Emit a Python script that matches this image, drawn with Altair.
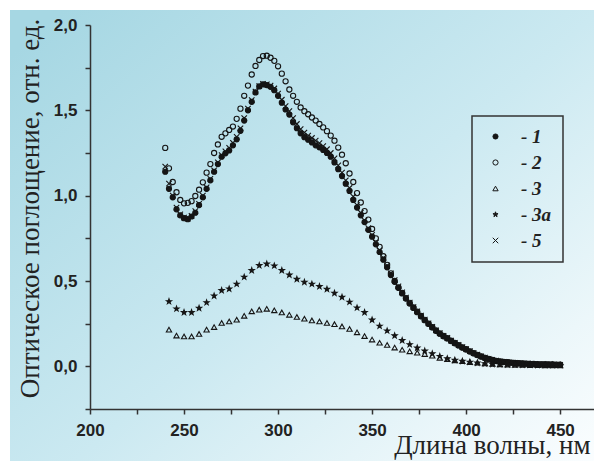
import altair as alt
import pandas as pd

# wavelength grids (nm)
wl_main = list(range(240, 452, 2))
wl_sparse = list(range(242, 452, 4))

# series 1 (filled circles)
c1 = [1.14, 1.04, 0.99, 0.92, 0.885, 0.868, 0.862, 0.878, 0.90, 0.945,
      0.99, 1.04, 1.09, 1.14, 1.185, 1.228, 1.248, 1.265, 1.295, 1.33,
      1.38, 1.44, 1.50, 1.55, 1.605, 1.64, 1.652, 1.648, 1.638, 1.618,
      1.585, 1.545, 1.505, 1.475, 1.43, 1.395, 1.365, 1.343, 1.328, 1.312,
      1.295, 1.283, 1.268, 1.25, 1.228, 1.195, 1.155, 1.115, 1.07, 1.028,
      0.975, 0.93, 0.885, 0.845, 0.80, 0.76, 0.715, 0.67, 0.625, 0.58,
      0.535, 0.495, 0.46, 0.427, 0.397, 0.368, 0.342, 0.317, 0.293, 0.27,
      0.249, 0.228, 0.208, 0.191, 0.176, 0.163, 0.148, 0.135, 0.122, 0.11,
      0.099, 0.087, 0.076, 0.066, 0.057, 0.049, 0.042, 0.036, 0.031, 0.028,
      0.025, 0.023, 0.021, 0.019, 0.017, 0.016, 0.015, 0.014, 0.013, 0.012,
      0.011, 0.011, 0.01, 0.01, 0.009, 0.009]

# series 2 (open circles)
c2 = [1.28, 1.16, 1.08, 1.02, 0.975, 0.955, 0.958, 0.968, 0.998, 1.035,
      1.078, 1.135, 1.185, 1.25, 1.30, 1.345, 1.365, 1.385, 1.405, 1.45,
      1.51, 1.585, 1.645, 1.71, 1.76, 1.795, 1.818, 1.82, 1.808, 1.79,
      1.758, 1.715, 1.67, 1.622, 1.585, 1.55, 1.517, 1.495, 1.477, 1.458,
      1.44, 1.42, 1.40, 1.378, 1.352, 1.322, 1.282, 1.24, 1.19, 1.13,
      1.08, 1.015, 0.96, 0.91, 0.86, 0.805, 0.75, 0.70, 0.645, 0.595,
      0.545, 0.50, 0.462, 0.43, 0.40, 0.372, 0.345, 0.32, 0.295, 0.272,
      0.25, 0.23, 0.21, 0.193, 0.178, 0.165, 0.15, 0.137, 0.124, 0.111,
      0.10, 0.088, 0.077, 0.067, 0.058, 0.05, 0.043, 0.037, 0.032, 0.029,
      0.026, 0.024, 0.022, 0.02, 0.018, 0.017, 0.016, 0.015, 0.014, 0.013,
      0.012, 0.012, 0.011, 0.011, 0.01, 0.01]

# series 5 (crosses)
c5 = [1.17, 1.07, 1.0, 0.93, 0.89, 0.872, 0.866, 0.882, 0.91, 0.952,
      1.0, 1.048, 1.098, 1.148, 1.195, 1.238, 1.26, 1.28, 1.31, 1.345,
      1.395, 1.455, 1.51, 1.56, 1.61, 1.642, 1.655, 1.652, 1.645, 1.628,
      1.598, 1.562, 1.525, 1.495, 1.455, 1.42, 1.39, 1.37, 1.352, 1.338,
      1.322, 1.308, 1.29, 1.272, 1.25, 1.218, 1.178, 1.135, 1.09, 1.045,
      0.995, 0.945, 0.9, 0.855, 0.81, 0.77, 0.725, 0.68, 0.635, 0.59,
      0.545, 0.505, 0.468, 0.434, 0.403, 0.374, 0.347, 0.322, 0.297, 0.274,
      0.252, 0.231, 0.211, 0.194, 0.179, 0.166, 0.151, 0.138, 0.125, 0.113,
      0.101, 0.089, 0.078, 0.068, 0.059, 0.051, 0.044, 0.038, 0.033, 0.029,
      0.026, 0.024, 0.022, 0.02, 0.018, 0.017, 0.016, 0.014, 0.013, 0.012,
      0.012, 0.011, 0.011, 0.01, 0.01, 0.009]

# series 3 (triangles)
c3 = [0.215, 0.18, 0.175, 0.175, 0.19, 0.215, 0.23, 0.254, 0.263, 0.273,
      0.296, 0.322, 0.332, 0.337, 0.328, 0.316, 0.302, 0.289, 0.279, 0.269,
      0.263, 0.254, 0.247, 0.234, 0.219, 0.199, 0.177, 0.157, 0.138, 0.125,
      0.11, 0.097, 0.088, 0.08, 0.072, 0.062, 0.05, 0.042, 0.035, 0.03,
      0.025, 0.021, 0.017, 0.014, 0.012, 0.01, 0.009, 0.008, 0.007, 0.007,
      0.006, 0.006, 0.006]

# series 3a (stars)
c3a = [0.38, 0.337, 0.316, 0.316, 0.341, 0.374, 0.413, 0.445, 0.454, 0.482,
       0.523, 0.562, 0.591, 0.60, 0.589, 0.562, 0.536, 0.511, 0.493, 0.482,
       0.468, 0.452, 0.429, 0.405, 0.377, 0.343, 0.316, 0.272, 0.236, 0.208,
       0.18, 0.152, 0.128, 0.108, 0.09, 0.074, 0.059, 0.045, 0.036, 0.03,
       0.025, 0.02, 0.016, 0.013, 0.011, 0.01, 0.009, 0.008, 0.008, 0.007,
       0.007, 0.007, 0.006]

series_names = ["1", "2", "3", "3a", "5"]
x_ticks = [200, 225, 250, 275, 300, 325, 350, 375, 400, 425, 450]
y_ticks = [-0.25, 0.0, 0.25, 0.5, 0.75, 1.0, 1.25, 1.5, 1.75, 2.0]

rows = []
for name, wl, vals in [("1", wl_main, c1), ("2", wl_main, c2), ("3", wl_sparse, c3),
                       ("3a", wl_sparse, c3a), ("5", wl_main, c5)]:
    for w, v in zip(wl, vals):
        rows.append({"wl": w, "val": v, "series": name})
df = pd.DataFrame(rows)

STAR = ("M0,-1L0.235,-0.324L0.951,-0.309L0.38,0.124L0.588,0.809L0,0.4"
        "L-0.588,0.809L-0.38,0.124L-0.951,-0.309L-0.235,-0.324Z")
CROSS = "M-1,-1L1,1M-1,1L1,-1"

W, H = 504, 384
INK = "#151515"

bg = alt.Chart(alt.Data(values=[{"a": 1}])).mark_rect(
    fill=alt.LinearGradient(
        gradient="linear", x1=0, y1=0.1, x2=1, y2=1,
        stops=[alt.GradientStop(offset=0, color="#a6d7e3"),
               alt.GradientStop(offset=0.5, color="#cbe9f1"),
               alt.GradientStop(offset=0.82, color="#ecf7fa"),
               alt.GradientStop(offset=1, color="#fcfeff")]),
    strokeWidth=0,
).encode(x=alt.value(-80), x2=alt.value(W + 10), y=alt.value(-15), y2=alt.value(H + 60))

leg = alt.Legend(
    title=None, orient="none", legendX=382, legendY=91,
    strokeColor="#333333", padding=11, rowPadding=6,
    labelFont="Liberation Serif", labelFontSize=19, labelFontStyle="italic",
    labelFontWeight="bold", labelColor="#222222", labelOffset=16, symbolOffset=3,
    labelExpr="'- ' + datum.label", symbolStrokeWidth=1,
)

axis_common = dict(
    grid=False, domainColor="#333333", domainWidth=1.5,
    tickColor="#333333", tickWidth=1.5, tickSize=5,
    labelFont="Liberation Sans", labelFontWeight="bold",
    labelFontSize=17, labelColor="#222222", labelPadding=8,
    labelOverlap=False, labelFlush=False,
    titleFont="Liberation Serif",
    titleFontWeight="normal", titleColor="#222222", zindex=1,
)

pts = alt.Chart(df).mark_point(filled=False, strokeWidth=1.1, opacity=1).encode(
    x=alt.X("wl:Q", title="Длина волны, нм",
            scale=alt.Scale(domain=[200, 468], nice=False, zero=False),
            axis=alt.Axis(values=x_ticks, format="d",
                          labelExpr="datum.value % 50 == 0 ? datum.label : ''",
                          titleFontSize=27, titleX=500, titleY=44, titleAlign="right",
                          titleBaseline="alphabetic", **axis_common)),
    y=alt.Y("val:Q", title="Оптическое поглощение, отн. ед.",
            scale=alt.Scale(domain=[-0.25, 2.0], nice=False, zero=False),
            axis=alt.Axis(values=y_ticks,
                          labelExpr="abs(datum.value*2 - round(datum.value*2)) < 0.01 ? replace(format(datum.value, '.1f'), '.', ',') : ''",
                          titleFontSize=27, titleAngle=270, titleX=-52, titleY=183,
                          titleAlign="center", titleBaseline="alphabetic", **axis_common)),
    shape=alt.Shape("series:N", legend=leg,
                    scale=alt.Scale(domain=series_names,
                                    range=["circle", "circle", "triangle-up", STAR, CROSS])),
    fill=alt.Fill("series:N", legend=leg,
                  scale=alt.Scale(domain=series_names,
                                  range=[INK, "transparent", "transparent", INK, "transparent"])),
    stroke=alt.Stroke("series:N", legend=leg,
                      scale=alt.Scale(domain=series_names, range=[INK, INK, INK, INK, INK])),
    size=alt.Size("series:N", legend=leg,
                  scale=alt.Scale(domain=series_names, range=[26, 30, 44, 85, 26])),
)

chart = alt.layer(bg, pts).properties(
    width=W, height=H,
    autosize=alt.AutoSizeParams(type="none"),
    padding={"left": 82, "top": 17, "right": 0, "bottom": 52},
    background="white",
).configure_view(strokeWidth=0).configure_legend(strokeWidth=1.5)

chart.save("out.html", embed_options={"renderer": "svg", "actions": False})
